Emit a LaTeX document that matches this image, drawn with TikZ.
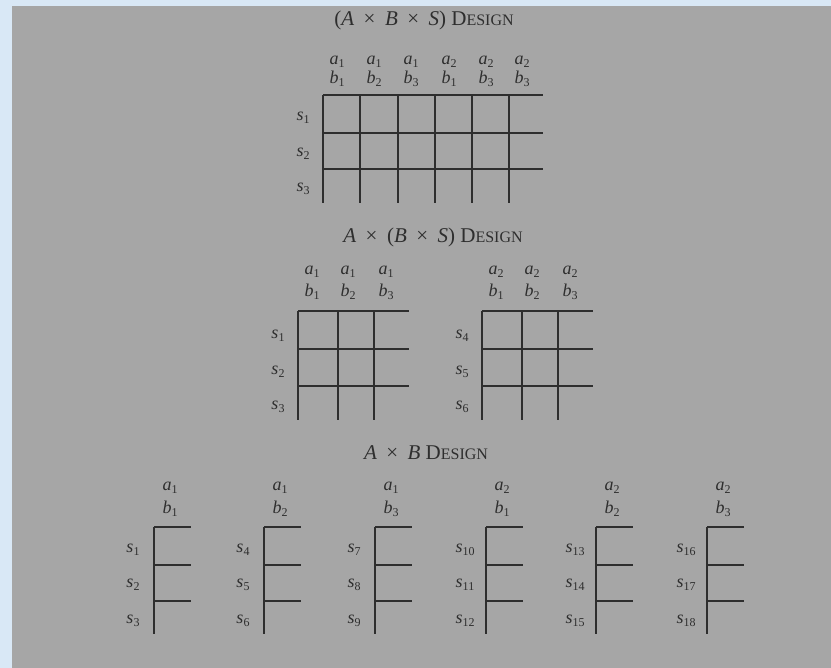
\documentclass[tikz,border=0pt]{standalone}
\usepackage{fontspec}
\setmainfont{Liberation Serif}
\definecolor{bgblue}{HTML}{D9E8F6}
\definecolor{bggray}{HTML}{A6A6A6}
\definecolor{ink}{HTML}{2E2E2E}
\newcommand\lab[2]{\textit{#1}\raisebox{-0.35ex}{\fontsize{12}{12}\selectfont #2}}
\newcommand\dsn{D{\fontsize{16}{16}\selectfont ESIGN}}
\newcommand\tms{\hspace{0.45em}×\hspace{0.45em}}
\tikzset{
  lbl/.style={text=ink, inner sep=0pt, font=\fontsize{18}{20}\selectfont},
  ttl/.style={text=ink, inner sep=0pt, font=\fontsize{21}{23}\selectfont},
  vline/.style={draw=ink, line width=1.7pt},
  hline/.style={draw=ink, line width=1.3pt}
}
\begin{document}
\begin{tikzpicture}[x=1pt,y=-1pt]
\useasboundingbox (0,0) rectangle (831,668);
\fill[bgblue] (0,0) rectangle (831,668);
\fill[bggray] (12,6) rectangle (831,668);

% ---------- (A x B x S) design ----------
\node[ttl] (t1) at (424,20) {(\textit{A}\tms\textit{B}\tms\textit{S}) \dsn};
\foreach \x in {323,360,398,435,472,509} {
  \draw[vline] (\x,95) -- (\x,203);
}
\draw[hline] (323,95) -- (543,95);
\draw[hline] (323,133) -- (543,133);
\draw[hline] (323,169) -- (543,169);
\foreach \x/\a/\b [count=\i] in {337/1/1,374/1/2,411/1/3,449/2/1,486/2/3,522/2/3} {
  \node[lbl] (ga\i) at (\x,62) {\lab{a}{\a}};
  \node[lbl] (gb\i) at (\x,79) {\lab{b}{\b}};
}
\foreach \y/\s [count=\i] in {118/1,154/2,189/3} {
  \node[lbl] (gs\i) at (303,\y) {\lab{s}{\s}};
}

% ---------- A x (B x S) design ----------
\node[ttl] (t2) at (433,237) {\textit{A}\tms(\textit{B}\tms\textit{S}) \dsn};
\foreach \ox/\a/\sa/\k in {298/1/1/L,482/2/4/R} {
  \foreach \d in {0,40,76} {
    \draw[vline] (\ox+\d,311) -- (\ox+\d,420);
  }
  \draw[hline] (\ox,311) -- (\ox+111,311);
  \draw[hline] (\ox,349) -- (\ox+111,349);
  \draw[hline] (\ox,386) -- (\ox+111,386);
  \foreach \d/\b in {14/1,50/2,88/3} {
    \node[lbl] (h\k a\b) at (\ox+\d,272) {\lab{a}{\a}};
    \node[lbl] (h\k b\b) at (\ox+\d,292) {\lab{b}{\b}};
  }
  \foreach \y [count=\j from 0] in {336,372,407} {
    \pgfmathtruncatemacro{\sn}{\sa+\j}
    \node[lbl] (h\k s\j) at (\ox-20,\y) {\lab{s}{\sn}};
  }
}

% ---------- A x B design ----------
\node[ttl] (t3) at (426,453) {\textit{A}\tms\textit{B} \dsn};
\foreach \ox/\a/\b/\sa [count=\i] in {154/1/1/1,264/1/2/4,375/1/3/7,486/2/1/10,596/2/2/13,707/2/3/16} {
  \draw[vline] (\ox,527) -- (\ox,634);
  \draw[hline] (\ox,527) -- (\ox+37,527);
  \draw[hline] (\ox,565) -- (\ox+37,565);
  \draw[hline] (\ox,601) -- (\ox+37,601);
  \node[lbl] (ca\i) at (\ox+16,488) {\lab{a}{\a}};
  \node[lbl] (cb\i) at (\ox+16,509) {\lab{b}{\b}};
  \foreach \y [count=\j from 0] in {550,585,621} {
    \pgfmathtruncatemacro{\sn}{\sa+\j}
    \node[lbl] (cs\i-\j) at (\ox-21,\y) {\lab{s}{\sn}};
  }
}
\end{tikzpicture}
\end{document}
